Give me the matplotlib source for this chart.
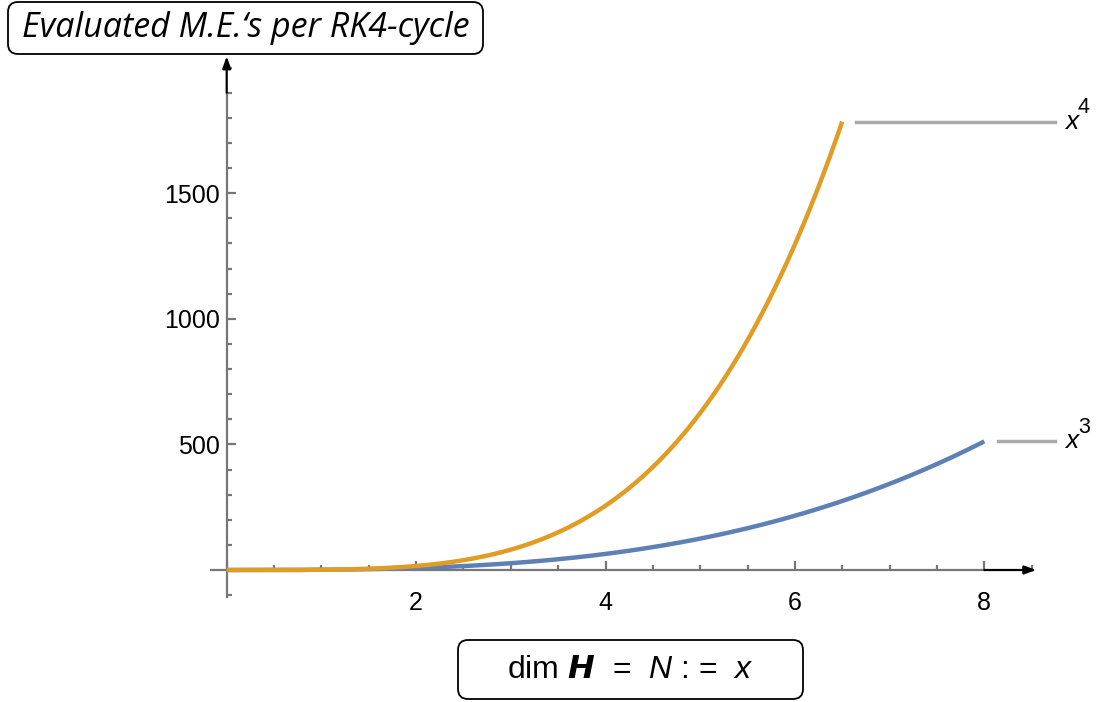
import matplotlib.pyplot as plt
import numpy as np
from matplotlib.patches import FancyBboxPatch
from matplotlib.transforms import IdentityTransform, offset_copy
from matplotlib.ticker import MultipleLocator

plt.rcParams['font.family'] = ['Liberation Sans', 'DejaVu Sans']
plt.rcParams['mathtext.fontset'] = 'custom'
plt.rcParams['mathtext.rm'] = 'Liberation Sans'
plt.rcParams['mathtext.it'] = 'Liberation Sans:italic'
plt.rcParams['mathtext.bf'] = 'Liberation Sans:bold'

# the two cost curves: exponent of x and where each curve stops
powers = [3, 4]
x_ends = [8.0, 6.5]
colors = ['#5E81B5', '#E19C24']

x_major = [0, 2, 4, 6, 8]
x_ticklabels = ['', '2', '4', '6', '8']
y_major = [500, 1000, 1500]

title_text = 'Evaluated M.E.\u2018s per RK4-cycle'
xlabel_text = r'dim $\boldsymbol{H}$  =  $N$ : =  $x$'

W, H = 1098, 702
fig = plt.figure(figsize=(W / 100, H / 100), dpi=100)

# axes placed so that x=0 sits at px 226.7 and y=0 at px 570
x0_px, x_scale = 226.7, 94.7
y0_px, y_scale = 570.0, 0.2512
xlim = (-0.2, 8.6)
ylim = (-110, 2050)
left = x0_px + xlim[0] * x_scale
right = x0_px + xlim[1] * x_scale
bottom = y0_px - ylim[0] * y_scale
top = y0_px - ylim[1] * y_scale
ax = fig.add_axes([left / W, (H - bottom) / H, (right - left) / W, (bottom - top) / H])
ax.set_xlim(*xlim)
ax.set_ylim(*ylim)

for p, xe, c in zip(powers, x_ends, colors):
    xs = np.linspace(0, xe, 400)
    ax.plot(xs, xs ** p, color=c, lw=3.2, solid_capstyle='butt', zorder=3)

# callout lines and "x^n" labels on the right
for p, xe in zip(powers, x_ends):
    yv = xe ** p
    ax.plot([xe + 0.14, 8.75], [yv, yv], color='#AAAAAA', lw=2.5, clip_on=False)
    ax.text(8.85, yv, 'x', fontsize=19, style='italic', va='center', ha='left',
            clip_on=False)
    sup = offset_copy(ax.transData, fig=fig, x=9.5, y=10, units='points')
    ax.text(8.85, yv, str(p), fontsize=15.5, va='center', ha='left', transform=sup,
            clip_on=False)

# axes through the origin
axis_grey = '#777777'
for s in ['top', 'right']:
    ax.spines[s].set_visible(False)
ax.spines['left'].set_position(('data', 0))
ax.spines['bottom'].set_position(('data', 0))
ax.spines['left'].set_bounds(-107, 1900)
ax.spines['bottom'].set_bounds(-0.17, 8.0)
for s in ['left', 'bottom']:
    ax.spines[s].set_color(axis_grey)
    ax.spines[s].set_linewidth(1.6)

ax.annotate('', xy=(8.55, 0), xytext=(8.0, 0),
            arrowprops=dict(arrowstyle='-|>,head_length=0.7,head_width=0.25',
                            color='black', lw=1.6, shrinkA=0, shrinkB=0))
ax.annotate('', xy=(0, 2045), xytext=(0, 1900),
            arrowprops=dict(arrowstyle='-|>,head_length=0.7,head_width=0.25',
                            color='black', lw=1.6, shrinkA=0, shrinkB=0))

ax.set_xticks(x_major)
ax.set_xticklabels(x_ticklabels)
ax.set_yticks(y_major)
ax.xaxis.set_minor_locator(MultipleLocator(0.5))
ax.yaxis.set_minor_locator(MultipleLocator(100))
ax.tick_params(which='both', direction='in', color=axis_grey, width=1.6,
               labelsize=18, labelcolor='black')
ax.tick_params(which='major', length=6.5)
ax.tick_params(which='minor', length=3.8)
ax.tick_params(axis='x', pad=15)
ax.tick_params(axis='y', pad=5)

# boxed title and axis label, placed in pixels
tr = IdentityTransform()


def boxed(x0, y0, x1, y1, text, size, **kw):
    box = FancyBboxPatch((x0, H - y1), x1 - x0, y1 - y0,
                         boxstyle='round,pad=0,rounding_size=10',
                         fc='white', ec='black', lw=1.3, transform=tr)
    fig.patches.append(box)
    fig.text((x0 + x1) / 2 / W, 1 - (y0 + y1) / 2 / H, text, fontsize=size,
             ha='center', va='center', **kw)


boxed(8, 2, 483, 54, title_text, 24.5, style='italic', family=['Open Sans', 'DejaVu Sans'])
boxed(458, 640, 803, 699, xlabel_text, 23)

fig.savefig('out.png', dpi=100)
